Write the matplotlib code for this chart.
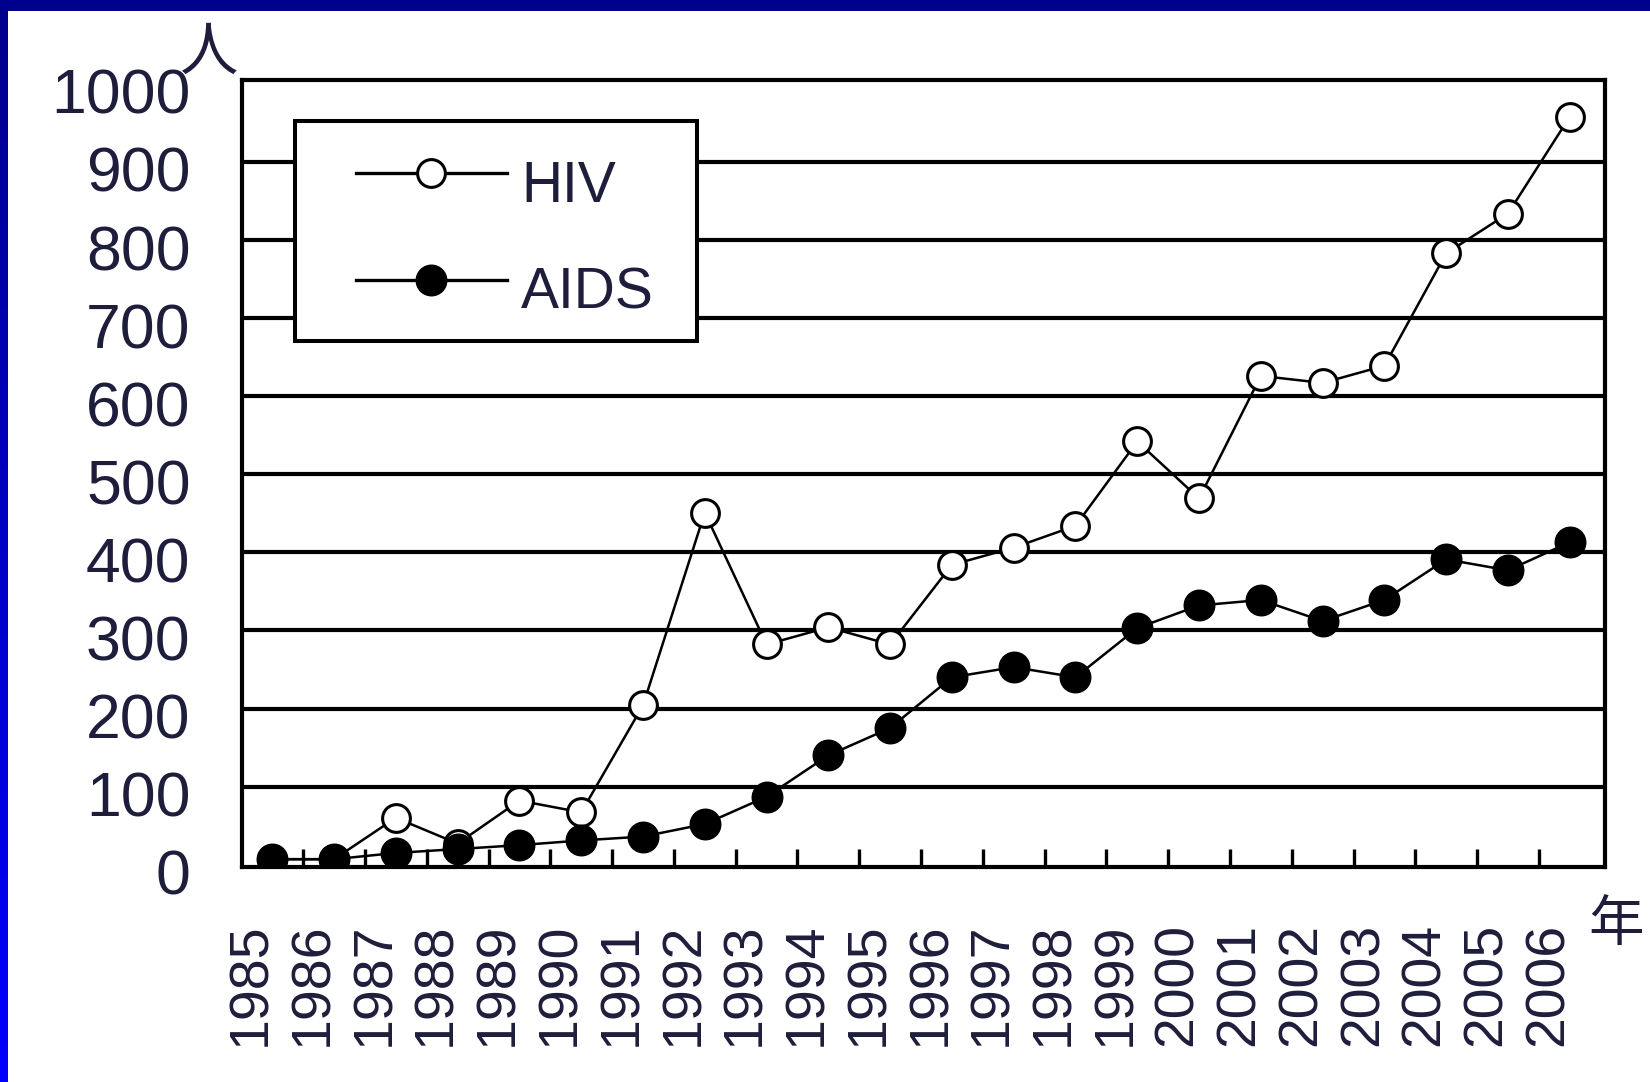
import numpy as np
import matplotlib
matplotlib.use('Agg')
import matplotlib.pyplot as plt
from matplotlib.lines import Line2D
from matplotlib.legend_handler import HandlerLine2D
from matplotlib.transforms import ScaledTranslation

# === Daten ===
years = list(range(1985, 2007))
hiv = [7, 7, 60, 27, 82, 67, 204, 451, 282, 304, 282, 384, 406, 434,
       542, 469, 626, 617, 639, 783, 834, 958]
aids = [7, 7, 15, 20, 25, 31, 36, 52, 87, 140, 175, 240, 253, 240,
        303, 332, 339, 312, 339, 391, 377, 413]
y_ticks = list(range(0, 1001, 100))
series_names = ['HIV', 'AIDS']

text_col = '#1e1e3c'
plt.rcParams['font.family'] = ['Liberation Sans', 'DejaVu Sans']

fig = plt.figure(figsize=(16.5, 10.82), dpi=100)
fig.patch.set_facecolor('white')

# === blauer Rahmen (oben + links) ===
top_band = fig.add_axes([0, 1 - 11 / 1082, 1, 11 / 1082])
top_band.set_facecolor('#00008f')
top_band.set_xticks([]); top_band.set_yticks([])
for s in top_band.spines.values():
    s.set_visible(False)
left_band = fig.add_axes([0, 0, 8 / 1650, 1 - 11 / 1082])
grad = np.linspace(1.0, 0.55, 256).reshape(-1, 1)
rgb = np.zeros((256, 1, 3))
rgb[:, :, 2] = grad
left_band.imshow(rgb, aspect='auto', origin='lower')
left_band.axis('off')

# === Plot ===
ax = fig.add_axes([242 / 1650, 1 - 867 / 1082, (1605 - 242) / 1650, (867 - 80) / 1082])
ax.plot(years, hiv, color='k', lw=1.8, marker='o', ms=20, mfc='white',
        mec='k', mew=2.2, zorder=3)
ax.plot(years, aids, color='k', lw=1.8, marker='o', ms=22, mfc='k',
        mec='k', mew=1, zorder=4)

ax.set_xlim(1984.51, 2006.57)
ax.set_ylim(-3, 1005)

ax.set_yticks(y_ticks)
ax.set_yticklabels([str(v) for v in y_ticks], fontsize=45, color=text_col)
ax.tick_params(axis='y', length=0, pad=37)
ax.yaxis.grid(True, color='k', lw=3)
gl = ax.yaxis.get_gridlines()
gl[0].set_visible(False)
gl[-1].set_visible(False)
ax.set_axisbelow(True)

ax.set_xticks(years)
ax.set_xticklabels([str(y) for y in years], rotation=90, fontsize=40, color=text_col)
ax.tick_params(axis='x', which='major', length=0, pad=40)
ax.set_xticks([y + 0.5 for y in years[:-1]], minor=True)
ax.tick_params(axis='x', which='minor', direction='in', length=13, width=2.4, color='k')

for sp in ax.spines.values():
    sp.set_linewidth(3)
    sp.set_color('k')

shift_x = ScaledTranslation(-21 / 100, 0, fig.dpi_scale_trans)
for lbl in ax.get_xticklabels():
    lbl.set_transform(lbl.get_transform() + shift_x)
shift_y = ScaledTranslation(0, -7 / 100, fig.dpi_scale_trans)
for lbl in ax.get_yticklabels():
    lbl.set_transform(lbl.get_transform() + shift_y)

# === Legende ===
h_hiv = Line2D([], [], color='k', lw=2.4, marker='o', ms=20, mfc='white', mec='k', mew=2.2)
h_aids = Line2D([], [], color='k', lw=2.4, marker='o', ms=22, mfc='k', mec='k', mew=1)
leg = ax.legend([h_hiv, h_aids], series_names, loc='upper left',
                bbox_to_anchor=(53 / 1363, 746 / 787, 402 / 1363, 0), mode='expand',
                borderaxespad=0, fontsize=41, borderpad=0.52, handlelength=3.2,
                handletextpad=0.25, labelspacing=0.93, fancybox=False,
                framealpha=1, edgecolor='k', numpoints=1,
                handler_map={Line2D: HandlerLine2D(xpad=0.55)})
leg.get_frame().set_linewidth(2.9)
shift_leg = ScaledTranslation(0, -9 / 100, fig.dpi_scale_trans)
for t in leg.get_texts():
    t.set_color(text_col)
    t.set_transform(t.get_transform() + shift_leg)

# === Einheiten ===
fig.text(208 / 1650, 1 - 53 / 1082, '人', fontsize=42, color=text_col,
         ha='center', va='center', family=['Noto Sans CJK JP', 'DejaVu Sans'])
fig.text(1616 / 1650, 1 - 925 / 1082, '年', fontsize=40, color=text_col,
         ha='center', va='center', family=['Noto Sans CJK JP', 'DejaVu Sans'])

fig.savefig('out.png', dpi=100)
